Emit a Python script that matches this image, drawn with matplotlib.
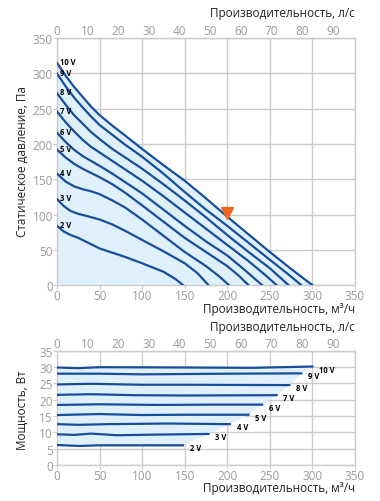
import matplotlib
matplotlib.use("Agg")
import matplotlib.pyplot as plt

plt.rcParams['font.family'] = ['Open Sans', 'DejaVu Sans']

LINE = '#174e9b'
FILL = '#dff0fb'
GRID = '#cccccc'
TICK = '#9a9a9a'

voltages = ['2 V', '3 V', '4 V', '5 V', '6 V', '7 V', '8 V', '9 V', '10 V']

# static pressure curves, m3/h vs Pa
q_2v = [0, 8, 16, 25, 35, 50, 65, 80, 100, 125, 140, 148]
p_2v = [84, 76, 71, 67, 61, 52, 46, 40, 31, 19, 8, 0]
q_3v = [0, 8, 16, 25, 35, 50, 65, 80, 100, 125, 150, 165, 178]
p_3v = [122, 112, 105, 101, 98, 93, 86, 77, 64, 48, 31, 17, 0]
q_4v = [0, 10, 20, 30, 40, 50, 65, 80, 100, 125, 150, 175, 190, 202]
p_4v = [158, 147, 140, 136, 133, 129, 120, 110, 93, 70, 47, 27, 13, 0]
q_5v = [0, 10, 20, 30, 40, 50, 65, 80, 100, 125, 150, 175, 200, 213, 225]
p_5v = [192, 181, 172, 165, 159, 153, 143, 131, 113, 90, 67, 47, 27, 14, 0]
q_6v = [0, 10, 20, 30, 40, 50, 65, 80, 100, 125, 150, 175, 200, 220, 241]
p_6v = [216, 203, 192, 183, 176, 169, 158, 146, 130, 107, 84, 62, 42, 22, 0]
q_7v = [0, 10, 20, 30, 40, 50, 65, 80, 100, 125, 150, 175, 200, 225, 245, 258]
p_7v = [246, 231, 218, 206, 196, 188, 176, 164, 148, 126, 103, 80, 57, 34, 14, 0]
q_8v = [0, 10, 20, 30, 40, 50, 65, 80, 100, 125, 150, 175, 200, 225, 250, 272]
p_8v = [272, 256, 241, 229, 217, 207, 193, 181, 165, 143, 120, 96, 71, 47, 24, 0]
q_9v = [0, 10, 20, 30, 40, 50, 65, 80, 100, 125, 150, 175, 200, 225, 250, 270, 287]
p_9v = [300, 282, 266, 252, 239, 227, 213, 199, 182, 158, 132, 107, 84, 60, 36, 17, 0]
q_10v = [0, 10, 20, 30, 40, 50, 65, 80, 100, 125, 150, 175, 200, 225, 250, 275, 300]
p_10v = [315, 297, 281, 267, 253, 241, 226, 212, 193, 170, 148, 123, 97, 72, 47, 23, 0]

q_curves = [q_2v, q_3v, q_4v, q_5v, q_6v, q_7v, q_8v, q_9v, q_10v]
p_curves = [p_2v, p_3v, p_4v, p_5v, p_6v, p_7v, p_8v, p_9v, p_10v]

# working point
point_q = 200
point_p = 97

# power consumption, m3/h vs W
w_q_2v = [0, 25, 50, 100, 148]
w_2v = [6.1, 5.8, 6.0, 6.0, 6.0]
w_q_3v = [0, 20, 40, 70, 120, 178]
w_3v = [9.4, 9.2, 9.6, 9.1, 9.3, 9.5]
w_q_4v = [0, 25, 60, 130, 203]
w_4v = [12.5, 12.3, 12.5, 12.7, 12.5]
w_q_5v = [0, 50, 100, 150, 225]
w_5v = [15.3, 15.6, 15.3, 15.4, 15.4]
w_q_6v = [0, 50, 120, 180, 241]
w_6v = [18.4, 18.6, 18.4, 18.5, 18.5]
w_q_7v = [0, 40, 90, 150, 258]
w_7v = [21.5, 21.7, 21.4, 21.3, 21.4]
w_q_8v = [0, 40, 100, 150, 273]
w_8v = [24.7, 24.9, 24.6, 24.6, 24.5]
w_q_9v = [0, 50, 100, 200, 287]
w_9v = [28.0, 28.0, 27.8, 28.0, 28.1]
w_q_10v = [0, 25, 50, 150, 230, 300]
w_10v = [29.9, 29.7, 30.0, 29.9, 29.8, 30.2]

w_q_curves = [w_q_2v, w_q_3v, w_q_4v, w_q_5v, w_q_6v, w_q_7v, w_q_8v, w_q_9v, w_q_10v]
w_curves = [w_2v, w_3v, w_4v, w_5v, w_6v, w_7v, w_8v, w_9v, w_10v]

fig = plt.figure(figsize=(3.8, 5.02), dpi=100)
ax1 = fig.add_axes([0.150, 0.430, 0.784, 0.492])
ax2 = fig.add_axes([0.150, 0.072, 0.784, 0.227])


def style_axes(ax, ymax, ystep):
    ax.set_xlim(0, 350)
    ax.set_ylim(0, ymax)
    ax.set_xticks(range(0, 351, 50))
    ax.set_yticks(range(0, ymax + 1, ystep))
    ax.grid(True, color=GRID, linewidth=1.0)
    ax.set_axisbelow(True)
    for s in ax.spines.values():
        s.set_color(GRID)
        s.set_linewidth(1.0)
    ax.tick_params(axis='both', colors=GRID, labelcolor=TICK, labelsize=8.5,
                   length=3, width=0.8, pad=0)
    sec = ax.secondary_xaxis('top', functions=(lambda x: x / 3.6, lambda x: x * 3.6))
    sec.set_xticks(range(0, 91, 10))
    sec.tick_params(colors=GRID, labelcolor=TICK, labelsize=8.5, length=0, pad=1)
    sec.spines['top'].set_color(GRID)
    return sec


style_axes(ax1, 350, 50)
style_axes(ax2, 35, 5)

# top chart: fill under the highest curve, then the curves
ax1.fill_between(q_10v, p_10v, 0, color=FILL, linewidth=0, zorder=1)
for q, p, lab in zip(q_curves, p_curves, voltages):
    ax1.plot(q, p, color=LINE, linewidth=1.6, zorder=3, solid_joinstyle='round')
    ax1.text(4, p[0] + 2, lab, fontsize=5.5, fontweight='bold', ha='left',
             va='center', zorder=4)
ax1.plot([point_q], [point_p + 5], marker='v', color='#f26522', markersize=8,
         linestyle='none', zorder=5)

# bottom chart: fill between the 2 V and 10 V lines, bounded by curve ends
ends_q = [q[-1] for q in w_q_curves]
ends_w = [w[-1] for w in w_curves]
poly_q = [0] + ends_q + [0]
poly_w = [w_2v[0]] + ends_w + [w_10v[0]]
ax2.fill(poly_q, poly_w, color=FILL, linewidth=0, zorder=1)
for q, w, lab in zip(w_q_curves, w_curves, voltages):
    ax2.plot(q, w, color=LINE, linewidth=1.6, zorder=3, solid_joinstyle='round')
    ax2.text(q[-1] + 8, w[-1] - 0.8, lab, fontsize=5.5, fontweight='bold',
             ha='left', va='center', zorder=4)

lab_kw = dict(fontsize=8.5, ha='right', va='center', color='#222222')
fig.text(0.934, 1 - 14 / 502, 'Производительность, л/с', **lab_kw)
fig.text(0.934, 1 - 309 / 502, 'Производительность, м³/ч', **lab_kw)
fig.text(0.934, 1 - 328 / 502, 'Производительность, л/с', **lab_kw)
fig.text(0.934, 1 - 489 / 502, 'Производительность, м³/ч', **lab_kw)
fig.text(22 / 380, 1 - 162 / 502, 'Статическое давление, Па', rotation=90,
         fontsize=8.5, ha='center', va='center', color='#222222')
fig.text(22 / 380, 1 - 410 / 502, 'Мощность, Вт', rotation=90,
         fontsize=8.5, ha='center', va='center', color='#222222')

fig.savefig('out.png', dpi=100)
